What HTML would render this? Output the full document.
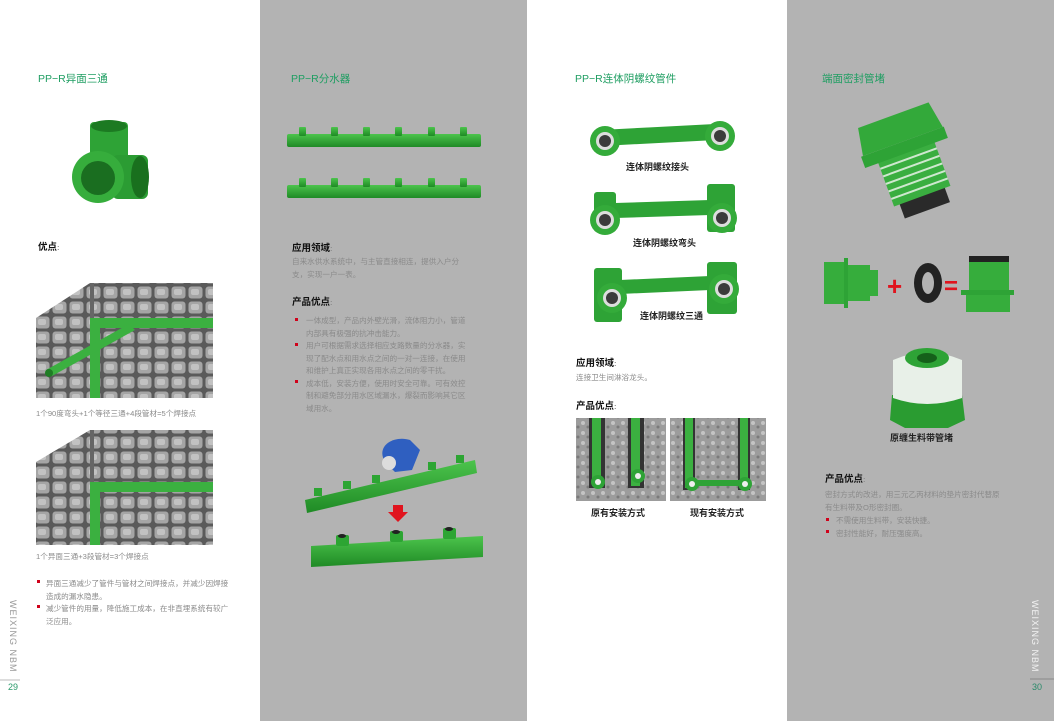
<!DOCTYPE html>
<html><head><meta charset="utf-8"><style>
html,body{margin:0;padding:0;background:#fff}
svg{display:block}
text{font-family:"Liberation Sans","Noto Sans CJK SC",sans-serif}
.t{fill:#1f9e62;font-size:10.5px}
.h{fill:#111;font-size:9.5px;font-weight:bold}
.b{fill:#8a8a8a;font-size:7.6px}
.c{fill:#222;font-size:9px;font-weight:bold}
</style></head><body>
<svg width="1054" height="721" viewBox="0 0 1054 721" xmlns="http://www.w3.org/2000/svg">
<defs>
<pattern id="brick" width="17" height="15" patternUnits="userSpaceOnUse">
<rect width="17" height="15" fill="#5a5a5a"/>
<rect x="1.5" y="1.5" width="14" height="12" rx="3" fill="#a5a5a5"/>
<rect x="4" y="4" width="8" height="6" rx="2" fill="#c2c2c2"/>
</pattern>
<pattern id="conc" width="10" height="10" patternUnits="userSpaceOnUse">
<rect width="10" height="10" fill="#9c9c9c"/>
<circle cx="3" cy="3" r="2" fill="#c4c4c4"/><circle cx="8" cy="7" r="1.5" fill="#7a7a7a"/>
</pattern>
<linearGradient id="gp" x1="0" y1="0" x2="0" y2="1"><stop offset="0" stop-color="#4cc44c"/><stop offset="1" stop-color="#1f8a25"/></linearGradient>
</defs>
<rect x="0" y="0" width="260" height="721" fill="#fff"/>
<rect x="260" y="0" width="267" height="721" fill="#b3b3b3"/>
<rect x="527" y="0" width="260" height="721" fill="#fff"/>
<rect x="787" y="0" width="267" height="721" fill="#b3b3b3"/>

<!-- column 1 -->
<text class="t" x="38" y="82">PP−R异面三通</text>
<rect x="90" y="122" width="38" height="50" rx="4" fill="#2ea336"/>
<ellipse cx="109" cy="126" rx="18" ry="6" fill="#1c7a22"/>
<rect x="112" y="155" width="36" height="44" rx="6" fill="#2b9c33"/>
<ellipse cx="140" cy="177" rx="9" ry="21" fill="#19701e"/>
<circle cx="98" cy="177" r="26" fill="#36ad3c"/>
<circle cx="98" cy="178" r="17" fill="#1a6e20"/>
<text class="h" x="38" y="250">优点<tspan class="b">:</tspan></text>
<polygon points="36,318 90,283 213,283 213,398 36,398" fill="url(#brick)"/>
<rect x="90" y="283" width="4" height="115" fill="#666"/>
<rect x="96" y="318" width="117" height="10" fill="#3bb040"/>
<rect x="90" y="318" width="10" height="80" fill="#3bb040"/>
<polygon points="46,370 52,376 135,330 129,324" fill="#3bb040"/>
<ellipse cx="49" cy="373" rx="4" ry="4" fill="#1f7d25"/>
<text class="b" x="36" y="416">1个90度弯头+1个等径三通+4段管材=5个焊接点</text>
<polygon points="36,462 90,430 213,430 213,545 36,545" fill="url(#brick)"/>
<rect x="90" y="430" width="4" height="115" fill="#666"/>
<rect x="90" y="482" width="123" height="10" fill="#3bb040"/>
<rect x="90" y="482" width="10" height="63" fill="#3bb040"/>
<text class="b" x="36" y="559">1个异面三通+3段管材=3个焊接点</text>
<rect x="37" y="580" width="3" height="3" fill="#d0021b"/>
<text class="b" x="46" y="586">异面三通减少了管件与管材之间焊接点，并减少因焊接</text>
<text class="b" x="46" y="599">造成的漏水隐患。</text>
<rect x="37" y="605" width="3" height="3" fill="#d0021b"/>
<text class="b" x="46" y="611">减少管件的用量，降低施工成本，在非直埋系统有较广</text>
<text class="b" x="46" y="624">泛应用。</text>
<text x="10" y="600" transform="rotate(90 10 600)" style="fill:#999;font-size:9px;letter-spacing:1px">WEIXING NBM</text>
<line x1="0" y1="680" x2="20" y2="680" stroke="#bbb" stroke-width="1"/>
<text x="8" y="690" style="fill:#2a9a6a;font-size:9px">29</text>

<!-- column 2 -->
<text class="t" x="291" y="82">PP−R分水器</text>
<g fill="url(#gp)">
<rect x="287" y="134" width="194" height="13" rx="2"/>
<rect x="287" y="185" width="194" height="13" rx="2"/>
<rect x="299" y="127" width="7" height="9" rx="1"/><rect x="331" y="127" width="7" height="9" rx="1"/><rect x="363" y="127" width="7" height="9" rx="1"/><rect x="395" y="127" width="7" height="9" rx="1"/><rect x="428" y="127" width="7" height="9" rx="1"/><rect x="460" y="127" width="7" height="9" rx="1"/>
<rect x="299" y="178" width="7" height="9" rx="1"/><rect x="331" y="178" width="7" height="9" rx="1"/><rect x="363" y="178" width="7" height="9" rx="1"/><rect x="395" y="178" width="7" height="9" rx="1"/><rect x="428" y="178" width="7" height="9" rx="1"/><rect x="460" y="178" width="7" height="9" rx="1"/>
</g>
<text class="h" x="292" y="251">应用领域<tspan class="b">:</tspan></text>
<text class="b" x="292" y="264">自来水供水系统中，与主管直接相连，提供入户分</text>
<text class="b" x="292" y="277">支，实现一户一表。</text>
<text class="h" x="292" y="305">产品优点<tspan class="b">:</tspan></text>
<rect x="295" y="318" width="3" height="3" fill="#d0021b"/>
<text class="b" x="306" y="323">一体成型，产品内外壁光滑，流体阻力小，管道</text>
<text class="b" x="306" y="336">内部具有极强的抗冲击能力。</text>
<rect x="295" y="343" width="3" height="3" fill="#d0021b"/>
<text class="b" x="306" y="348">用户可根据需求选择相应支路数量的分水器，实</text>
<text class="b" x="306" y="361">现了配水点和用水点之间的一对一连接，在使用</text>
<text class="b" x="306" y="373">和维护上真正实现各用水点之间的零干扰。</text>
<rect x="295" y="380" width="3" height="3" fill="#d0021b"/>
<text class="b" x="306" y="386">成本低，安装方便，使用时安全可靠。可有效控</text>
<text class="b" x="306" y="398">制和避免部分用水区域漏水，爆裂而影响其它区</text>
<text class="b" x="306" y="411">域用水。</text>
<polygon points="305,500 475,460 477,473 307,513" fill="url(#gp)"/>
<rect x="314" y="488" width="8" height="8" fill="#2da533"/><rect x="343" y="481" width="8" height="8" fill="#2da533"/><rect x="372" y="475" width="8" height="8" fill="#2da533"/><rect x="428" y="462" width="8" height="8" fill="#2da533"/><rect x="456" y="455" width="8" height="8" fill="#2da533"/>
<path d="M385,462 C375,445 395,435 410,440 L420,450 L412,470 L395,472 Z" fill="#2f5fc0"/>
<circle cx="389" cy="463" r="7" fill="#ddd"/>
<polygon points="393,505 403,505 403,512 408,512 398,522 388,512 393,512" fill="#e0141e"/>
<polygon points="311,546 483,536 483,557 311,567" fill="url(#gp)"/>
<rect x="336" y="535" width="13" height="11" rx="2" fill="#2da533"/><ellipse cx="342" cy="536" rx="4" ry="2" fill="#222"/>
<rect x="390" y="531" width="13" height="11" rx="2" fill="#2da533"/><ellipse cx="396" cy="532" rx="4" ry="2" fill="#222"/>
<rect x="443" y="528" width="13" height="11" rx="2" fill="#2da533"/><ellipse cx="449" cy="529" rx="4" ry="2" fill="#222"/>

<!-- column 3 -->
<text class="t" x="575" y="82">PP−R连体阴螺纹管件</text>
<g>
<polygon points="600,130 715,124 716,140 601,146" fill="#2ea336"/>
<circle cx="605" cy="141" r="15" fill="#34ab3a"/><circle cx="605" cy="141" r="9" fill="#ddd"/><circle cx="605" cy="141" r="6" fill="#3b3b3b"/>
<circle cx="720" cy="136" r="15" fill="#34ab3a"/><circle cx="720" cy="136" r="9" fill="#ddd"/><circle cx="720" cy="136" r="6" fill="#3b3b3b"/>
<text class="c" x="626" y="170">连体阴螺纹接头</text>
<rect x="594" y="192" width="22" height="40" rx="3" fill="#2ea336"/>
<rect x="707" y="184" width="28" height="48" rx="3" fill="#2ea336"/>
<polygon points="615,203 710,200 710,215 615,218" fill="#2ea336"/>
<circle cx="605" cy="220" r="15" fill="#34ab3a"/><circle cx="605" cy="220" r="9" fill="#ddd"/><circle cx="605" cy="220" r="6" fill="#3b3b3b"/>
<circle cx="722" cy="218" r="15" fill="#34ab3a"/><circle cx="722" cy="218" r="9" fill="#ddd"/><circle cx="722" cy="218" r="6" fill="#3b3b3b"/>
<text class="c" x="633" y="246">连体阴螺纹弯头</text>
<rect x="594" y="268" width="28" height="54" rx="3" fill="#2ea336"/>
<rect x="707" y="262" width="30" height="52" rx="3" fill="#2ea336"/>
<polygon points="620,280 710,276 710,290 620,294" fill="#2ea336"/>
<circle cx="612" cy="298" r="15" fill="#34ab3a"/><circle cx="612" cy="298" r="9" fill="#ddd"/><circle cx="612" cy="298" r="6" fill="#3b3b3b"/>
<circle cx="724" cy="289" r="15" fill="#34ab3a"/><circle cx="724" cy="289" r="9" fill="#ddd"/><circle cx="724" cy="289" r="6" fill="#3b3b3b"/>
<text class="c" x="640" y="319">连体阴螺纹三通</text>
</g>
<text class="h" x="576" y="366">应用领域<tspan class="b">:</tspan></text>
<text class="b" x="576" y="380">连接卫生间淋浴龙头。</text>
<text class="h" x="576" y="409">产品优点<tspan class="b">:</tspan></text>
<rect x="576" y="418" width="90" height="83" fill="url(#conc)"/>
<rect x="670" y="418" width="96" height="83" fill="url(#conc)"/>
<rect x="589" y="418" width="16" height="70" fill="#333"/><rect x="592" y="418" width="9" height="68" fill="#3bb040"/>
<rect x="628" y="418" width="16" height="70" fill="#333"/><rect x="631" y="418" width="9" height="68" fill="#3bb040"/>
<circle cx="598" cy="482" r="7" fill="#2ea336"/><circle cx="598" cy="482" r="3" fill="#eee"/>
<circle cx="638" cy="476" r="7" fill="#2ea336"/><circle cx="638" cy="476" r="3" fill="#eee"/>
<rect x="683" y="418" width="12" height="72" fill="#333"/><rect x="685" y="418" width="8" height="70" fill="#3bb040"/>
<rect x="738" y="418" width="12" height="72" fill="#333"/><rect x="740" y="418" width="8" height="70" fill="#3bb040"/>
<rect x="690" y="480" width="55" height="6" fill="#2ea336"/>
<circle cx="692" cy="484" r="7" fill="#2ea336"/><circle cx="692" cy="484" r="3" fill="#eee"/>
<circle cx="745" cy="484" r="7" fill="#2ea336"/><circle cx="745" cy="484" r="3" fill="#eee"/>
<text class="c" x="591" y="516">原有安装方式</text>
<text class="c" x="690" y="516">现有安装方式</text>

<!-- column 4 -->
<text class="t" x="822" y="82">端面密封管堵</text>
<g transform="rotate(-20 912 168)">
<rect x="888" y="195" width="48" height="18" fill="#2a2a2a"/>
<rect x="882" y="150" width="60" height="48" fill="#3aae40"/>
<line x1="882" y1="158" x2="942" y2="158" stroke="#cfe8cf" stroke-width="2"/><line x1="882" y1="166" x2="942" y2="166" stroke="#cfe8cf" stroke-width="2"/><line x1="882" y1="174" x2="942" y2="174" stroke="#cfe8cf" stroke-width="2"/><line x1="882" y1="182" x2="942" y2="182" stroke="#cfe8cf" stroke-width="2"/><line x1="882" y1="190" x2="942" y2="190" stroke="#cfe8cf" stroke-width="2"/>
<rect x="868" y="140" width="88" height="12" fill="#2ea336"/>
<polygon points="875,112 950,112 955,140 870,140" fill="#33a93a"/>
</g>
<rect x="824" y="262" width="20" height="42" fill="#36ad3c"/>
<rect x="844" y="258" width="4" height="50" fill="#2ea336"/>
<rect x="848" y="265" width="22" height="36" fill="#36ad3c"/>
<rect x="870" y="270" width="8" height="26" fill="#36ad3c"/>
<text x="887" y="295" style="fill:#e0141e;font-size:26px;font-weight:bold">+</text>
<ellipse cx="928" cy="283" rx="14" ry="20" fill="#222"/><ellipse cx="928" cy="283" rx="6" ry="11" fill="#b3b3b3"/>
<text x="944" y="294" style="fill:#e0141e;font-size:24px;font-weight:bold">=</text>
<rect x="969" y="256" width="40" height="6" fill="#222"/>
<rect x="969" y="262" width="40" height="28" fill="#36ad3c"/>
<rect x="961" y="290" width="53" height="5" fill="#2ea336"/>
<rect x="966" y="295" width="44" height="17" fill="#36ad3c"/>
<polygon points="892,395 962,395 965,420 948,428 905,428 890,420" fill="#2a9c31"/>
<path d="M893,360 Q927,345 962,360 L962,398 Q927,410 893,398 Z" fill="#e8f0e8"/>
<ellipse cx="927" cy="358" rx="22" ry="10" fill="#2ea336"/><ellipse cx="927" cy="358" rx="10" ry="5" fill="#15601a"/>
<text class="c" x="890" y="441">原缠生料带管堵</text>
<text class="h" x="825" y="482">产品优点<tspan class="b">:</tspan></text>
<text class="b" x="825" y="497">密封方式的改进，用三元乙丙材料的垫片密封代替原</text>
<text class="b" x="825" y="510">有生料带及O形密封圈。</text>
<rect x="826" y="518" width="3" height="3" fill="#d0021b"/>
<text class="b" x="836" y="523">不需使用生料带，安装快捷。</text>
<rect x="826" y="530" width="3" height="3" fill="#d0021b"/>
<text class="b" x="836" y="536">密封性能好，耐压强度高。</text>
<text x="1032" y="600" transform="rotate(90 1032 600)" style="fill:#f2f2f2;font-size:9px;letter-spacing:1px">WEIXING NBM</text>
<line x1="1030" y1="679" x2="1054" y2="679" stroke="#888" stroke-width="1"/>
<text x="1032" y="690" style="fill:#2a8a6a;font-size:9px">30</text>
</svg>
</body></html>
